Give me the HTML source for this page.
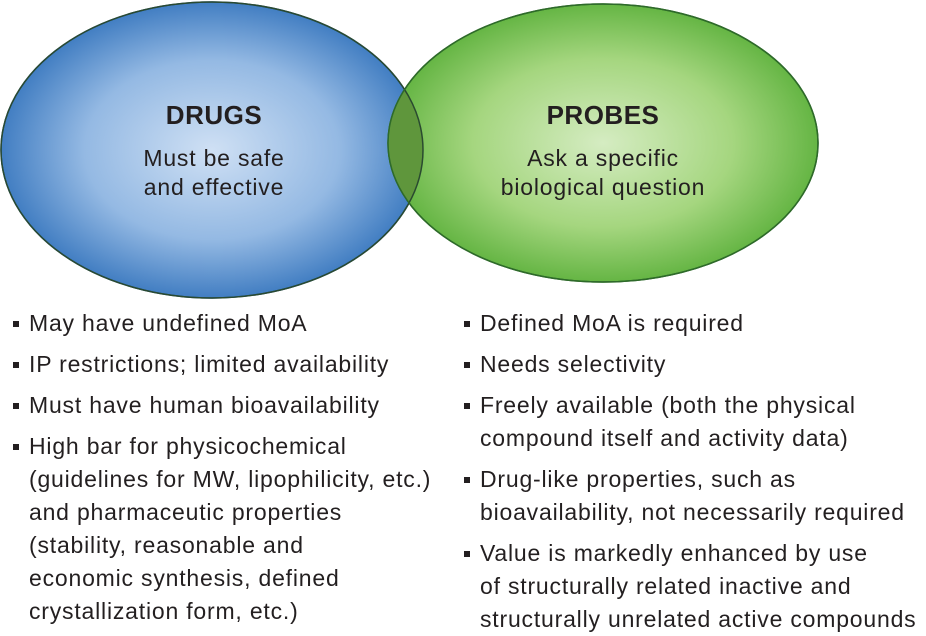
<!DOCTYPE html>
<html><head><style>
body{margin:0;background:#fff;width:926px;height:632px;overflow:hidden;font-family:"Liberation Sans",sans-serif;color:#231f20}
.t{position:absolute;white-space:nowrap;font-size:23px;line-height:29px;letter-spacing:0.8px}
.b{position:absolute}
.b div{position:relative;padding-left:17px;font-size:23px;line-height:33px;white-space:nowrap;letter-spacing:0.8px}
.b div.s{margin-top:8px}
.b div:before{content:"";position:absolute;left:1px;top:14px;width:6px;height:6px;background:#231f20}
</style></head><body>
<svg width="926" height="632" style="position:absolute;left:0;top:0">
<defs>
<radialGradient id="bg" cx="50%" cy="50%" r="55%"><stop offset="0" stop-color="#cfe0f4"/><stop offset="0.55" stop-color="#94b9e3"/><stop offset="1" stop-color="#2d6fba"/></radialGradient>
<radialGradient id="gg" cx="50%" cy="50%" r="55%"><stop offset="0" stop-color="#d5ecc2"/><stop offset="0.55" stop-color="#a5d67f"/><stop offset="1" stop-color="#55ad35"/></radialGradient>
<clipPath id="cb"><ellipse cx="212" cy="150" rx="211" ry="148"/></clipPath>
</defs>
<ellipse cx="212" cy="150" rx="211" ry="148" fill="url(#bg)" stroke="#1d4f8a" stroke-width="1.5"/>
<ellipse cx="603" cy="143" rx="215" ry="139" fill="url(#gg)" stroke="#2e6a2a" stroke-width="1.5"/>
<ellipse cx="603" cy="143" rx="215" ry="139" fill="#5f963c" clip-path="url(#cb)"/>
<ellipse cx="212" cy="150" rx="211" ry="148" fill="none" stroke="#2a4a30" stroke-width="1.5"/>
<ellipse cx="603" cy="143" rx="215" ry="139" fill="none" stroke="#2e6a2a" stroke-width="1.5"/>
</svg>
<div class="t" style="left:0;width:428px;text-align:center;top:101px;font-weight:bold;font-size:26px;letter-spacing:0.5px">DRUGS</div>
<div class="t" style="left:0;width:428px;text-align:center;top:144px">Must be safe<br>and effective</div>
<div class="t" style="left:388px;width:430px;text-align:center;top:101px;font-weight:bold;font-size:26px;letter-spacing:0.5px">PROBES</div>
<div class="t" style="left:388px;width:430px;text-align:center;top:144px">Ask a specific<br>biological question</div>
<div class="b" style="left:12px;top:307px">
<div>May have undefined MoA</div>
<div class="s">IP restrictions; limited availability</div>
<div class="s">Must have human bioavailability</div>
<div class="s">High bar for physicochemical<br>(guidelines for MW, lipophilicity, etc.)<br>and pharmaceutic properties<br>(stability, reasonable and<br>economic synthesis, defined<br>crystallization form, etc.)</div>
</div>
<div class="b" style="left:463px;top:307px">
<div>Defined MoA is required</div>
<div class="s">Needs selectivity</div>
<div class="s">Freely available (both the physical<br>compound itself and activity data)</div>
<div class="s">Drug-like properties, such as<br>bioavailability, not necessarily required</div>
<div class="s">Value is markedly enhanced by use<br>of structurally related inactive and<br>structurally unrelated active compounds</div>
</div>
</body></html>
